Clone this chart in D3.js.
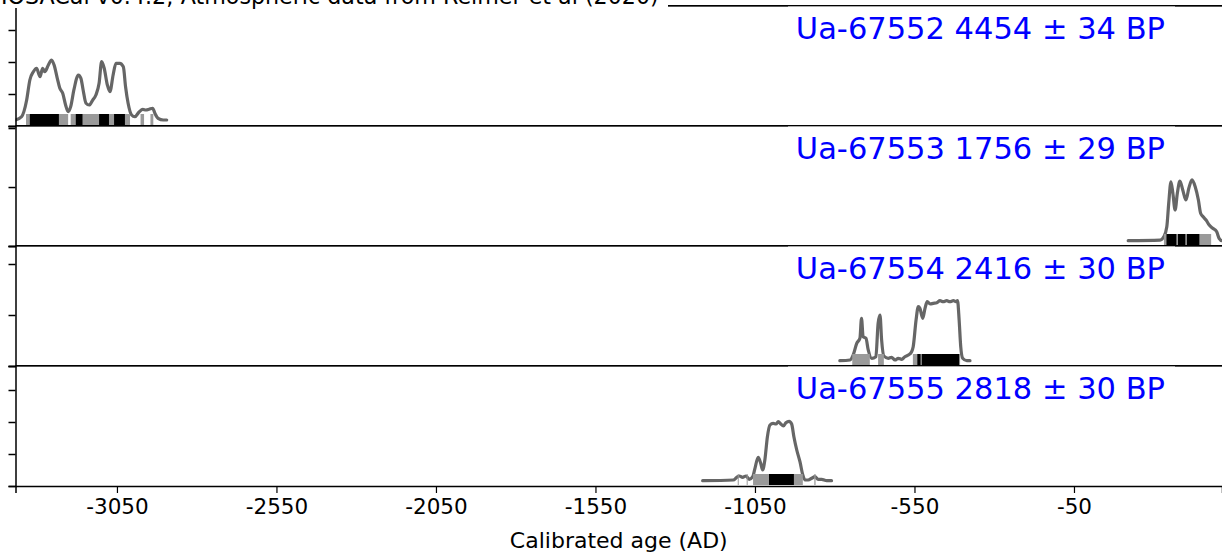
<!DOCTYPE html>
<html>
<head>
<meta charset="utf-8">
<script src="https://cdn.jsdelivr.net/npm/d3@7"></script>
<style>
  body { margin: 0; background: #fff; }
  svg { display: block; }
  text { font-family: "DejaVu Sans", sans-serif; }
</style>
</head>
<body>
<svg id="chart" width="1222" height="559"></svg>
<script>
// ---- Data: calibrated radiocarbon dates (probability in per-mille per year) ----
const titleText = "IOSACal v0.4.2; Atmospheric data from Reimer et al (2020)";
const sampleIds = ["Ua-67552", "Ua-67553", "Ua-67554", "Ua-67555"];
const bpAges    = [4454, 1756, 2416, 2818];
const bpErrors  = [34, 29, 30, 30];

const xTicks = [-3050, -2550, -2050, -1550, -1050, -550, -50];
const xDomain = [-3368, 414];

// Ua-67552
const years1 = [-3368, -3349, -3333, -3323, -3312, -3302, -3291, -3283, -3276, -3265, -3255, -3247, -3237, -3229, -3220, -3211, -3203, -3195, -3185, -3171, -3163, -3156, -3147, -3137, -3126, -3116, -3106, -3098, -3090, -3080, -3072, -3062, -3053, -3041, -3030, -3023, -3015, -3004, -2994, -2980, -2969, -2959, -2949, -2938, -2931, -2921, -2905, -2894];
const prob1  = [0.094, 0.145, 0.406, 0.719, 0.848, 0.902, 0.770, 0.902, 0.848, 0.953, 1.031, 0.953, 0.745, 0.589, 0.511, 0.328, 0.223, 0.302, 0.563, 0.797, 0.745, 0.563, 0.355, 0.328, 0.406, 0.484, 0.667, 1.005, 0.902, 0.641, 0.536, 0.797, 0.980, 0.980, 0.927, 0.614, 0.355, 0.172, 0.145, 0.223, 0.261, 0.250, 0.261, 0.277, 0.198, 0.120, 0.094, 0.094];
const hpd95_1 = [[-3335, -3203], [-3195, -3009], [-2976, -2965], [-2945, -2936]];
const hpd68_1 = [[-3323, -3232], [-3179, -3158], [-3106, -3075], [-3059, -3025]];

// Ua-67553
const years2 = [120, 220, 232, 241, 247, 254, 260, 267, 274, 282, 291, 301, 310, 320, 330, 340, 347, 355, 364, 374, 385, 397, 405, 414, 430];
const prob2  = [0.18, 0.20, 0.32, 0.65, 1.45, 2.18, 1.79, 1.22, 1.79, 2.20, 1.90, 1.56, 1.96, 2.24, 2.01, 1.56, 1.11, 0.99, 0.88, 0.71, 0.60, 0.49, 0.26, 0.18, 0.18];
const hpd95_2 = [[232, 380]];
const hpd68_2 = [[240, 271], [276, 299], [304, 343]];

// Ua-67554
const years3 = [-784, -752, -742, -731, -721, -716, -711, -702, -695, -684, -671, -664, -658, -653, -646, -632, -622, -611, -601, -590, -580, -569, -559, -554, -545, -538, -533, -524, -517, -510, -501, -491, -480, -470, -460, -449, -439, -428, -420, -415, -410, -405, -399, -386, -376];
const prob3  = [0.104, 0.118, 0.216, 0.445, 0.543, 0.935, 0.575, 0.543, 0.314, 0.151, 0.182, 0.837, 1.000, 0.510, 0.196, 0.151, 0.171, 0.118, 0.151, 0.131, 0.182, 0.216, 0.280, 0.378, 0.902, 1.163, 1.131, 0.935, 1.131, 1.261, 1.216, 1.229, 1.241, 1.280, 1.261, 1.280, 1.261, 1.280, 1.261, 1.280, 0.902, 0.378, 0.151, 0.104, 0.104];
const hpd95_3 = [[-745, -690], [-664, -646], [-555, -407]];
const hpd68_3 = [[-541, -531], [-527, -410]];

// Ua-67555
const years4 = [-1214, -1118, -1107, -1099, -1089, -1078, -1068, -1057, -1050, -1040, -1032, -1026, -1019, -1011, -1003, -993, -984, -977, -969, -961, -953, -943, -935, -928, -919, -909, -900, -893, -883, -872, -862, -852, -841, -825, -810];
const prob4  = [0.166, 0.188, 0.272, 0.313, 0.272, 0.313, 0.209, 0.291, 0.553, 0.897, 0.709, 0.500, 0.813, 1.541, 1.906, 1.959, 1.938, 2.009, 1.938, 1.875, 1.978, 2.022, 1.938, 1.541, 1.125, 0.759, 0.344, 0.188, 0.188, 0.241, 0.291, 0.209, 0.209, 0.166, 0.166];
const hpd95_4 = [[-1104, -1101], [-1076, -1073], [-1056, -900], [-864, -860]];
const hpd68_4 = [[-1006, -928]];

// y-axis extent and tick values for each panel (per-mille per year)
const yMax   = [1.875, 4.07, 2.353, 3.75];
const yTicks = [[0, 0.5, 1, 1.5], [0, 2, 4], [0, 1, 2], [0, 1, 2, 3]];

// ---- Layout ----
const left = 15.5, right = 1222;
const panelTop = 6, panelH = 120;
const nPanels = 4;
const curveColor = "#666666";
const hpdGray = "#9a9a9a";

const panels = [
  { years: years1, prob: prob1, hpd95: hpd95_1, hpd68: hpd68_1 },
  { years: years2, prob: prob2, hpd95: hpd95_2, hpd68: hpd68_2 },
  { years: years3, prob: prob3, hpd95: hpd95_3, hpd68: hpd68_3 },
  { years: years4, prob: prob4, hpd95: hpd95_4, hpd68: hpd68_4 }
];

const svg = d3.select("#chart");
const x = d3.scaleLinear().domain(xDomain).range([left, right]);
const defs = svg.append("defs");

panels.forEach((p, i) => {
  const top = panelTop + i * panelH;
  const bottom = top + panelH;
  const y = d3.scaleLinear().domain([0, yMax[i]]).range([bottom, top]);
  const g = svg.append("g").attr("class", "panel");

  defs.append("clipPath").attr("id", "clip" + i)
    .append("rect").attr("x", left).attr("y", top).attr("width", right - left).attr("height", panelH);

  const plot = g.append("g").attr("clip-path", `url(#clip${i})`);

  // probability curve
  const line = d3.line()
    .x((d, k) => x(p.years[k]))
    .y(d => y(d))
    .curve(d3.curveMonotoneX);
  plot.append("path")
    .datum(p.prob)
    .attr("d", line)
    .attr("fill", "none")
    .attr("stroke", curveColor)
    .attr("stroke-width", 3.2)
    .attr("stroke-linejoin", "round")
    .attr("stroke-linecap", "round");

  // HPD ranges: 95% grey, 68% black on top
  const barY = bottom - 12, barH = 11;
  plot.selectAll(".h95").data(p.hpd95).join("rect")
    .attr("x", d => x(d[0]))
    .attr("width", d => Math.max(1, x(d[1]) - x(d[0])))
    .attr("y", barY).attr("height", barH)
    .attr("fill", hpdGray);
  plot.selectAll(".h68").data(p.hpd68).join("rect")
    .attr("x", d => x(d[0]))
    .attr("width", d => Math.max(1, x(d[1]) - x(d[0])))
    .attr("y", barY).attr("height", barH)
    .attr("fill", "#000");

  // frame: top border (double hairline where two panels meet)
  g.append("line").attr("x1", left).attr("x2", right).attr("y1", top - 0.5).attr("y2", top - 0.5)
    .attr("stroke", "#000").attr("stroke-width", 1);
  g.append("line").attr("x1", left).attr("x2", right).attr("y1", top + 0.5).attr("y2", top + 0.5)
    .attr("stroke", "#555").attr("stroke-width", 1);

  // y axis
  const yAxis = d3.axisLeft(y).tickValues(yTicks[i]).tickSize(7).tickFormat("");
  const ya = g.append("g").attr("transform", `translate(${left},0)`).call(yAxis);
  ya.select(".domain").attr("stroke", "#000").attr("stroke-width", 1.5);
  ya.selectAll(".tick line").attr("stroke", "#000").attr("stroke-width", 1.5);

  // sample label with white box
  g.append("rect").attr("x", 788).attr("y", top + 0.5).attr("width", 387).attr("height", 40).attr("fill", "#fff");
  g.append("text")
    .attr("x", 1165).attr("y", top + 33)
    .attr("text-anchor", "end")
    .attr("fill", "#0000ff")
    .attr("font-size", 30.5)
    .text(`${sampleIds[i]} ${bpAges[i]} ± ${bpErrors[i]} BP`);
});

// bottom x axis
const bottomY = panelTop + nPanels * panelH;
const xAxis = d3.axisBottom(x).tickValues(xTicks).tickSize(7).tickPadding(6)
  .tickFormat(d => String(d));
const xa = svg.append("g").attr("transform", `translate(0,${bottomY})`).call(xAxis);
xa.select(".domain").attr("stroke", "#000").attr("stroke-width", 1.5);
xa.selectAll(".tick line").attr("stroke", "#000").attr("stroke-width", 1.2);
xa.selectAll(".tick text").attr("font-size", 21.5).attr("fill", "#000")
  .attr("font-family", "DejaVu Sans, sans-serif");

svg.append("text")
  .attr("x", (left + right) / 2).attr("y", 548)
  .attr("text-anchor", "middle")
  .attr("font-size", 22)
  .text("Calibrated age (AD)");

// title strip at top
svg.append("rect").attr("x", 0).attr("y", 0).attr("width", 668).attr("height", 8).attr("fill", "#fff");
svg.append("text")
  .attr("x", 1).attr("y", 4)
  .attr("font-size", 22.2)
  .text(titleText);
</script>
</body>
</html>
